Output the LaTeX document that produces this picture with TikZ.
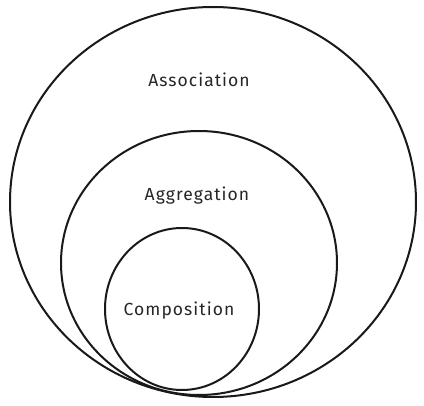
\documentclass[tikz,border=0pt]{standalone}
\usepackage{fontspec}
\setmainfont{Fira Sans}
\begin{document}
\begin{tikzpicture}[x=1pt,y=-1pt,
  ring/.style={draw=black!90,line width=2pt},
  lbl/.style={font=\fontsize{17.5}{20}\selectfont\addfontfeatures{LetterSpace=6}, text=black!85}]
\useasboundingbox (0,0) rectangle (424,406);
\fill[white] (0,0) rectangle (424,406);
\draw[ring] (213,202) ellipse [x radius=203, y radius=195];
\draw[ring] (199,263) ellipse [x radius=138, y radius=132];
\draw[ring] (182,309) ellipse [x radius=77, y radius=81];
\node[lbl] (assoc) at (199,80) {Association};
\node[lbl] (aggr) at (197,196) {Aggregation};
\node[lbl] (comp) at (179,311) {Composition};
\end{tikzpicture}
\end{document}
